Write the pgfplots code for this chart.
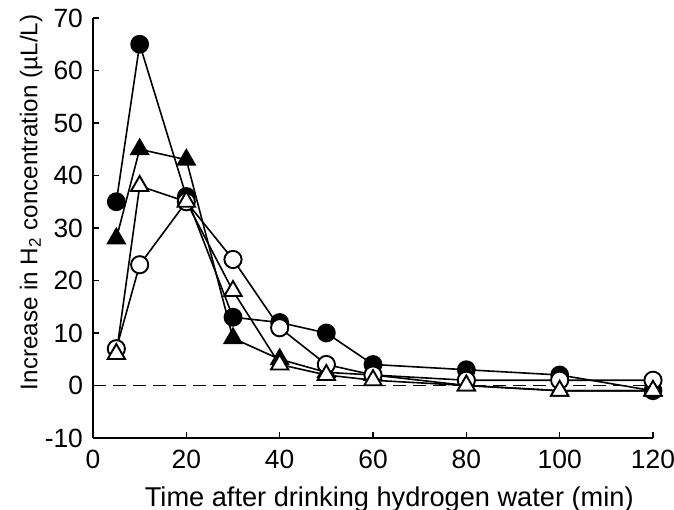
\documentclass[border=0pt]{standalone}
\usepackage{fontspec}
\setmainfont{Liberation Sans}
\usepackage{pgfplots}
\pgfplotsset{compat=1.18}
\begin{document}
\begin{tikzpicture}
\begin{axis}[
  width=280pt, height=210pt, scale only axis,
  xmin=0, xmax=120, ymin=-10, ymax=70,
  axis lines*=left,
  axis line style={line width=0.85pt},
  tick align=inside,
  major tick length=3pt,
  tick style={line width=0.75pt, black},
  xtick={0,20,...,120}, ytick={-10,0,...,70},
  /pgf/number format/assume math mode=true,
  tick label style={font=\fontsize{13.2}{15}\selectfont},
  xticklabel style={yshift=-2.5pt},
  yticklabel style={xshift=-1.5pt},
  xlabel={Time after drinking hydrogen water (min)},
  ylabel={Increase in H\textsubscript{2} concentration (µL/L)},
  every axis x label/.style={at={(axis description cs:0.529,-0.163)}, anchor=base, font=\fontsize{13.6}{15}\selectfont},
  every axis y label/.style={at={(axis description cs:-0.1107,0.561)}, rotate=90, anchor=center, font=\fontsize{12.1}{15}\selectfont},
  clip=false,
]
\addplot[black, line width=0.8pt, dash pattern=on 6.5pt off 3.5pt] coordinates {(0,0) (120,0)};
% filled circles
\addplot[black, line width=0.8pt, mark=*, mark size=4.3pt, mark options={fill=black, solid}] coordinates {
(5,35) (10,65) (20,36) (30,13) (40,12) (50,10) (60,4) (80,3) (100,2) (120,-1)};
% filled triangles
\addplot[black, line width=0.8pt, mark=triangle*, mark size=5pt, mark options={fill=black, solid}] coordinates {
(5,28) (10,45) (20,43) (30,9) (40,5) (50,2.5) (60,2) (80,0) (100,-1) (120,-1)};
% open circles
\addplot[black, line width=0.8pt, mark=*, mark size=4.3pt, mark options={fill=white, draw=black, line width=0.95pt, solid}] coordinates {
(5,7) (10,23) (20,35) (30,24) (40,11) (50,4) (60,2) (80,1) (100,1) (120,1)};
% open triangles
\addplot[black, line width=0.8pt, mark=triangle*, mark size=5pt, mark options={fill=white, draw=black, line width=0.95pt, solid}] coordinates {
(5,6) (10,38) (20,35) (30,18) (40,4) (50,2) (60,1) (80,0) (100,-1) (120,-1)};
\end{axis}
\pgfresetboundingbox
\path[use as bounding box] ([xshift=-46.5pt,yshift=-36pt]current axis.south west) rectangle ([xshift=10.5pt,yshift=9pt]current axis.north east);
\end{tikzpicture}
\end{document}
